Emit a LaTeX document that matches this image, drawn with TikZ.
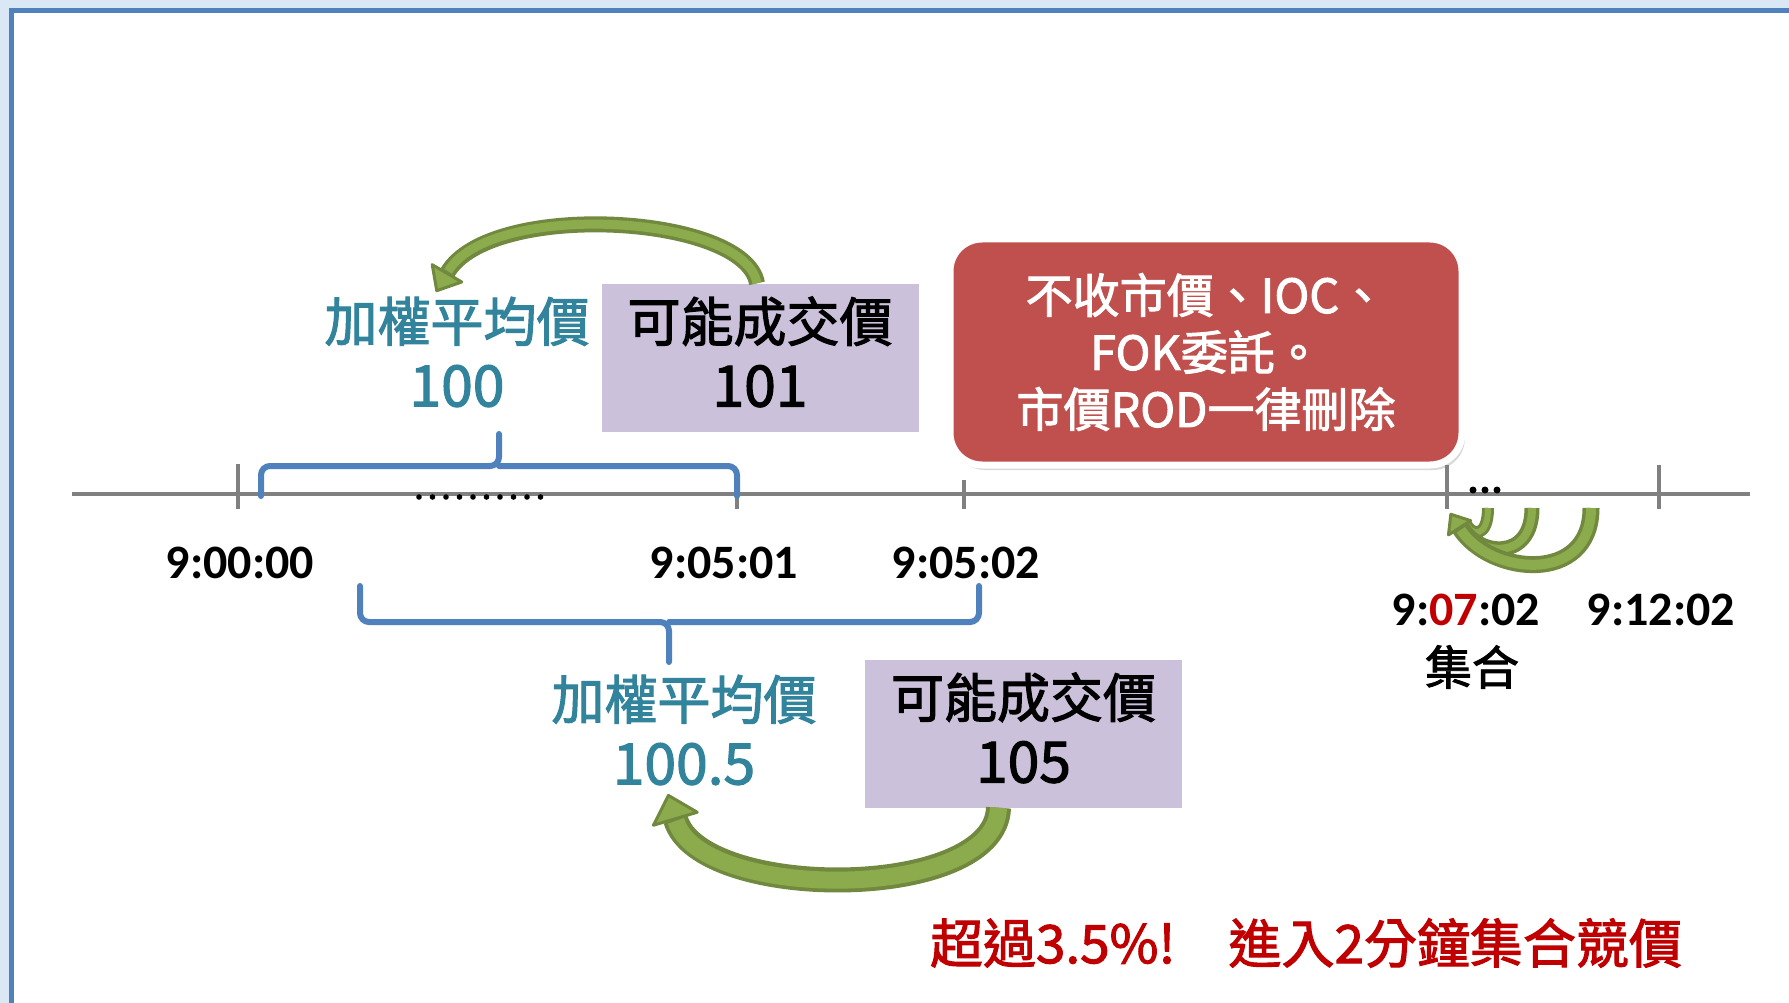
\documentclass[tikz,border=0pt]{standalone}
\usepackage{fontspec}
\setmainfont{Carlito}
\newfontfamily\cjk[FakeBold=2]{Noto Sans CJK TC}
\usetikzlibrary{arrows.meta,shadows,calc}
\definecolor{bgblue}{HTML}{DAE7F5}
\definecolor{frameblue}{HTML}{4F81BD}
\definecolor{braceblue}{HTML}{4F81BD}
\definecolor{wteal}{HTML}{31849B}
\definecolor{boxpurple}{HTML}{CCC1DA}
\definecolor{redbox}{HTML}{C0504D}
\definecolor{hotred}{HTML}{C00000}
\definecolor{axisgray}{HTML}{808080}
\definecolor{gDark}{HTML}{71893F}
\definecolor{gLight}{HTML}{8CAB4C}
\newcommand{\numsz}{\fontsize{57}{65}\selectfont}
\tikzset{
  wavg/.style={text=wteal, align=center, inner sep=0pt, font=\cjk\fontsize{53}{65}\selectfont},
  pricebox/.style={fill=boxpurple, minimum width=317pt, minimum height=148pt, align=center, inner sep=0pt, text depth=12pt, font=\cjk\fontsize{53}{65}\selectfont},
  timelbl/.style={font=\bfseries\fontsize{48}{56}\selectfont, inner sep=0pt},
  bracepath/.style={draw=braceblue, line width=6pt, rounded corners=9pt, line cap=round},
  axisline/.style={draw=axisgray, line width=4.5pt},
  tickmark/.style={draw=axisgray, line width=4pt},
  gouter/.style={draw=gDark, line width=#1},
  ginner/.style={draw=gLight, line width=#1},
}
\begin{document}
\begin{tikzpicture}[x=1pt,y=-1pt]
\useasboundingbox (0,0) rectangle (1789,1003);
% background and frame
\fill[bgblue] (0,0) rectangle (1789,1003);
\filldraw[fill=white, draw=frameblue, line width=5pt] (11,11) rectangle (1805,1020);

% axis
\coordinate (axL) at (72,494);
\coordinate (axR) at (1750,494);
\draw[axisline] (axL) -- (axR);
\foreach \x/\t/\b in {238/464/509, 737/480/509, 964/480/509, 1447/465/509, 1659/465/509}
  \draw[tickmark] (\x,\t) -- (\x,\b);

% dots
\foreach \i in {0,...,9} \fill ({419+\i*13.5},497) circle (2.8);
\foreach \i in {0,1,2} \fill ({1473+\i*12},490) circle (3.5);

% braces
\draw[bracepath] (261,496) |- (499,466) -- (499,434);
\draw[bracepath] (737,496) |- (499,466);
\draw[bracepath] (360,586) |- (669,622) -- (669,662);
\draw[bracepath] (979,586) |- (669,622);

% time labels
\node[timelbl] (l1) at (240,563) {9:00:00};
\node[timelbl] (l2) at (724,563) {9:05:01};
\node[timelbl] (l3) at (966,563) {9:05:02};
\node[timelbl] (l4) at (1466,610) {9:\textcolor{hotred}{07}:02};
\node[timelbl] (l5) at (1661,610) {9:12:02};
\node[font=\cjk\fontsize{47}{56}\selectfont, inner sep=0pt] (l6) at (1472,667) {集合};

% upper group
\node[wavg] (t1) at (457,352) {加權平均價\\\numsz 100};
\node[pricebox] (p1) at (760,357.5) {可能成交價\\\numsz 101};
% lower group
\node[wavg] (t2) at (684,730) {加權平均價\\\numsz 100.5};
\node[pricebox] (p2) at (1023.5,733.5) {可能成交價\\\numsz 105};

% red box
\node[fill=redbox, draw=white, line width=7pt, rounded corners=32pt,
      minimum width=512pt, minimum height=226pt, align=center, text=white,
      inner sep=0pt, font=\cjk\fontsize{47}{57}\selectfont,
      drop shadow={shadow xshift=3pt, shadow yshift=-5pt, opacity=0.3}]
  (rb) at (1206,352) {不收市價、IOC、\\FOK委託。\\市價ROD一律刪除};

% green arrows
\coordinate (tip1) at (436,292);
\draw[gouter=16pt, -{Triangle[width=40pt,length=24pt,line width=3pt,fill=gLight,round]}]
  ($(p1.north)+(-3,0)$) .. controls (745,214) and (490,200) .. (tip1);
\draw[ginner=9pt, shorten >=24pt]
  ($(p1.north)+(-3,0)$) .. controls (745,214) and (490,200) .. (tip1);

\coordinate (tip2) at (668,794);
\draw[gouter=25pt, -{Triangle[width=52pt,length=28pt,line width=3pt,fill=gLight,round]}]
  ($(p2.south)+(-25,0)$) .. controls (996,902) and (700,902) .. (tip2);
\draw[ginner=17pt, shorten >=28pt]
  ($(p2.south)+(-25,0)$) .. controls (996,902) and (700,902) .. (tip2);

% small arrows at 9:07:02
\coordinate (s1) at (1488,508);
\coordinate (e1) at (1466,524);
\coordinate (s2) at (1532,508);
\coordinate (e2) at (1462,527);
\coordinate (s3) at (1591,508);
\coordinate (tip3) at (1450,513);
\draw[gouter=12pt] (s1) .. controls (1488,538) and (1472,536) .. (e1);
\draw[ginner=6pt] (s1) .. controls (1488,538) and (1472,536) .. (e1);
\draw[gouter=15pt] (s2) .. controls (1532,562) and (1478,556) .. (e2);
\draw[ginner=8pt] (s2) .. controls (1532,562) and (1478,556) .. (e2);
\draw[gouter=17pt, -{Triangle[width=32pt,length=20pt,line width=3pt,fill=gLight,round]}]
  (s3) .. controls (1591,585) and (1490,575) .. (tip3);
\draw[ginner=10pt, shorten >=20pt]
  (s3) .. controls (1591,585) and (1490,575) .. (tip3);

% bottom note
\node[text=hotred, inner sep=0pt, font=\cjk\fontsize{53}{60}\selectfont] (note) at (1306,943)
  {超過3.5\%!　進入2分鐘集合競價};
\end{tikzpicture}
\end{document}
